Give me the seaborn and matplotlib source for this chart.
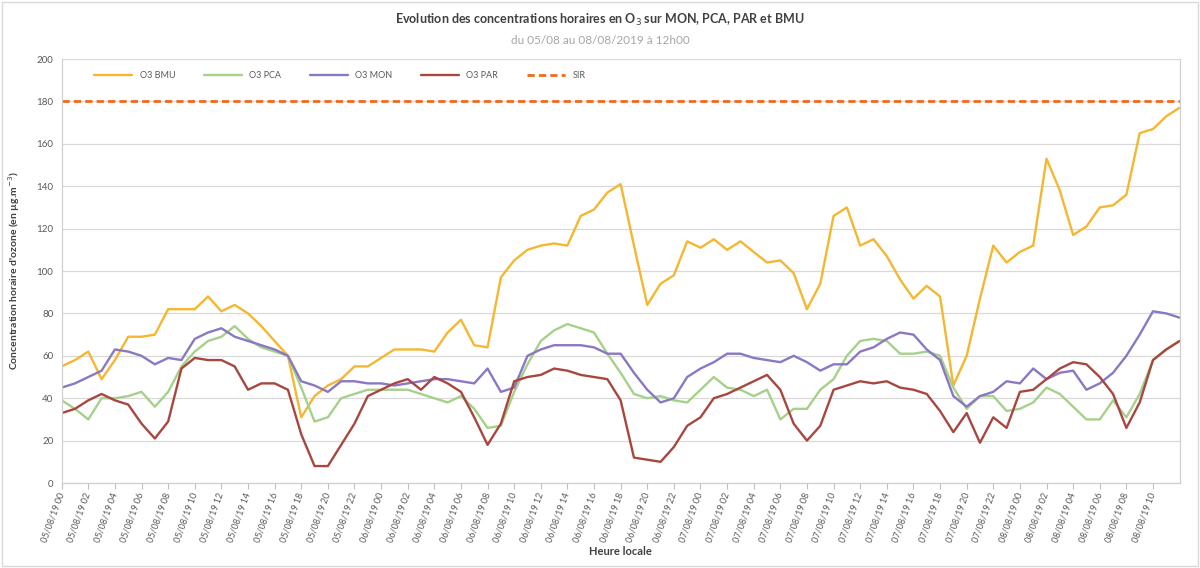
import matplotlib
matplotlib.use('Agg')
import matplotlib.pyplot as plt
import seaborn as sns
import pandas as pd

# hourly O3 concentrations (µg/m3), 05/08/2019 00h -> 08/08/2019 12h
start = '2019-08-05 00:00'
o3_bmu = [55, 58, 62, 49, 58, 69, 69, 70, 82, 82, 82, 88, 81, 84, 80, 74, 67, 60, 31, 41,
          46, 49, 55, 55, 59, 63, 63, 63, 62, 71, 77, 65, 64, 97, 105, 110, 112, 113, 112, 126,
          129, 137, 141, 112, 84, 94, 98, 114, 111, 115, 110, 114, 109, 104, 105, 99, 82, 94, 126, 130,
          112, 115, 107, 96, 87, 93, 88, 46, 60, 87, 112, 104, 109, 112, 153, 138, 117, 121, 130, 131,
          136, 165, 167, 173, 177]
o3_pca = [39, 35, 30, 40, 40, 41, 43, 36, 43, 55, 62, 67, 69, 74, 68, 64, 62, 60, 45, 29,
          31, 40, 42, 44, 44, 44, 44, 42, 40, 38, 41, 35, 26, 27, 43, 56, 67, 72, 75, 73,
          71, 61, 52, 42, 40, 41, 39, 38, 44, 50, 45, 44, 41, 44, 30, 35, 35, 44, 49, 60,
          67, 68, 67, 61, 61, 62, 60, 45, 35, 41, 41, 34, 35, 38, 45, 42, 36, 30, 30, 39,
          31, 42, 58, 63, 67]
o3_mon = [45, 47, 50, 53, 63, 62, 60, 56, 59, 58, 68, 71, 73, 69, 67, 65, 63, 60, 48, 46,
          43, 48, 48, 47, 47, 46, 47, 48, 49, 49, 48, 47, 54, 43, 45, 60, 63, 65, 65, 65,
          64, 61, 61, 52, 44, 38, 40, 50, 54, 57, 61, 61, 59, 58, 57, 60, 57, 53, 56, 56,
          62, 64, 68, 71, 70, 63, 58, 41, 36, 41, 43, 48, 47, 54, 49, 52, 53, 44, 47, 52,
          60, 70, 81, 80, 78]
o3_par = [33, 35, 39, 42, 39, 37, 28, 21, 29, 54, 59, 58, 58, 55, 44, 47, 47, 44, 23, 8,
          8, 18, 28, 41, 44, 47, 49, 44, 50, 47, 43, 31, 18, 28, 48, 50, 51, 54, 53, 51,
          50, 49, 39, 12, 11, 10, 17, 27, 31, 40, 42, 45, 48, 51, 44, 28, 20, 27, 44, 46,
          48, 47, 48, 45, 44, 42, 34, 24, 33, 19, 31, 26, 43, 44, 49, 54, 57, 56, 50, 42,
          26, 38, 58, 63, 67]
sir = 180

series = ['O3 BMU', 'O3 PCA', 'O3 MON', 'O3 PAR']
colors = {'O3 BMU': '#F5B731', 'O3 PCA': '#A5D18B', 'O3 MON': '#8B78C2', 'O3 PAR': '#A8473F'}

hours = pd.date_range(start, periods=len(o3_bmu), freq='h')
df = pd.DataFrame({'heure': range(len(hours)), 'O3 BMU': o3_bmu, 'O3 PCA': o3_pca,
                   'O3 MON': o3_mon, 'O3 PAR': o3_par})
df = df.melt(id_vars='heure', value_vars=series, var_name='serie', value_name='conc')

sns.set_theme(style='white')
plt.rcParams['font.family'] = ['Lato', 'DejaVu Sans']

fig = plt.figure(figsize=(12, 5.68), dpi=100)
ax = fig.add_axes([0.0514, 0.1496, 0.9316, 0.7465])

sns.lineplot(data=df, x='heure', y='conc', hue='serie', hue_order=series,
             palette=colors, linewidth=1.7, ax=ax)
ax.axhline(sir, color='#EE6A1E', linestyle=(0, (2.6, 1.5)), linewidth=2.0, label='SIR')

ax.set_xlim(0, len(hours) - 1)
ax.set_ylim(0, 200)
ax.set_yticks(range(0, 201, 20))
ticks = list(range(0, len(hours) - 2, 2))
ax.set_xticks(ticks)
ax.set_xticklabels([hours[i].strftime('%d/%m/%y %H') for i in ticks], rotation=70,
                   ha='right', va='center', rotation_mode='anchor', fontsize=6.5, color='#595959')
ax.tick_params(axis='y', labelsize=7, colors='#595959', length=0, pad=6)
ax.tick_params(axis='x', length=4, width=0.8, color='#BFBFBF', bottom=True, pad=3)
ax.grid(axis='y', color='#D9D9D9', linewidth=0.9)
for s in ax.spines.values():
    s.set_color('#D0D0D0')
    s.set_linewidth(0.9)
ax.spines['top'].set_visible(False)

ax.set_xlabel('Heure locale', fontsize=8, fontweight='bold', color='#404040', labelpad=2)
ax.set_ylabel("Concentration horaire d'ozone (en µg.m$^{-3}$)", fontsize=7.5,
              fontweight='bold', color='#404040', labelpad=10)

handles, labels = ax.get_legend_handles_labels()
ax.legend(handles, labels, ncol=5, loc='upper left', bbox_to_anchor=(0.022, 0.99),
          frameon=False, fontsize=6.5, handlelength=4.2, columnspacing=3.2,
          labelcolor='#595959')

fig.text(0.5, 0.965, 'Evolution des concentrations horaires en O$_3$ sur MON, PCA, PAR et BMU',
         ha='center', va='center', fontsize=9, fontweight='bold', color='#404040')
fig.text(0.5, 0.928, 'du 05/08 au 08/08/2019 à 12h00', ha='center', va='center',
         fontsize=8.5, color='#A6A6A6')

fig.patches.append(plt.Rectangle((0.002, 0.004), 0.996, 0.992, transform=fig.transFigure,
                                 fill=False, edgecolor='#D9D9D9', linewidth=1))

plt.savefig('out.png', dpi=100)
plt.close()
